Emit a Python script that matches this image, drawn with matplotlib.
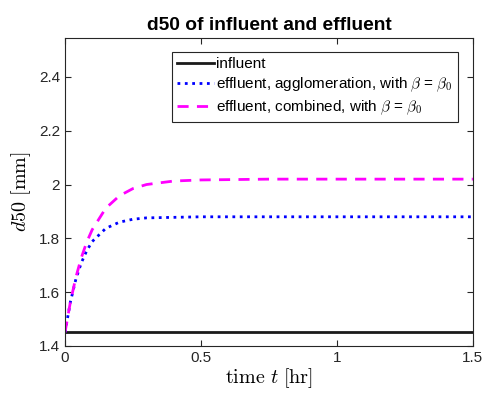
import numpy as np
import matplotlib.pyplot as plt

plt.rcParams['font.family'] = ['Liberation Sans', 'DejaVu Sans']
plt.rcParams['mathtext.fontset'] = 'cm'

# time [hr]
t = [0, 0.02, 0.04, 0.06, 0.08, 0.1, 0.15, 0.2, 0.25, 0.3, 0.4, 0.5, 0.75, 1.0, 1.25, 1.5]
# d50 [mm]
influent = [1.45] * len(t)
eff_agglom = [1.45, 1.564, 1.648, 1.709, 1.754, 1.788, 1.837, 1.860, 1.871, 1.876,
              1.878, 1.880, 1.880, 1.880, 1.880, 1.880]
eff_combined = [1.45, 1.564, 1.655, 1.728, 1.786, 1.832, 1.912, 1.958, 1.985, 2.000,
                2.013, 2.017, 2.020, 2.020, 2.020, 2.020]

fig = plt.figure(figsize=(4.85, 3.99), dpi=100)
ax = fig.add_axes([0.134, 0.133, 0.841, 0.772])

ax.plot(t, influent, color='#1a1a1a', lw=2, label='influent')
ax.plot(t, eff_agglom, color='blue', lw=2, ls=':', label=r'effluent, agglomeration, with $\beta$ = $\beta_{\mathsf{0}}$')
ax.plot(t, eff_combined, color='magenta', lw=2, ls=(0, (4, 3)), label=r'effluent, combined, with $\beta$ = $\beta_{\mathsf{0}}$')

ax.set_xlim(0, 1.5)
ax.set_ylim(1.4, 2.545)
ax.set_xticks([0, 0.5, 1, 1.5])
ax.set_xticklabels(['0', '0.5', '1', '1.5'])
ax.set_yticks([1.4, 1.6, 1.8, 2.0, 2.2, 2.4])
ax.set_yticklabels(['1.4', '1.6', '1.8', '2', '2.2', '2.4'])
ax.tick_params(direction='in', top=True, right=True, labelsize=11, colors='#262626', length=4)
for s in ax.spines.values():
    s.set_color('#262626')
    s.set_linewidth(0.8)

ax.set_title('d50 of influent and effluent', fontsize=13.8, fontweight='bold', pad=6)
ax.set_xlabel(r'$\mathrm{time}\ t\ [\mathrm{hr}]$', fontsize=14.5, labelpad=1)
ax.set_ylabel(r'$d50\ [\mathrm{mm}]$', fontsize=14.5, labelpad=4)

leg = ax.legend(loc='upper right', bbox_to_anchor=(0.963, 0.955), fontsize=11,
                frameon=True, fancybox=False, edgecolor='#262626', framealpha=1,
                handlelength=2.4, handletextpad=0.15, borderpad=0.35, labelspacing=0.3,
                borderaxespad=0)
leg.get_frame().set_linewidth(0.8)

fig.savefig('out.png', dpi=100)
